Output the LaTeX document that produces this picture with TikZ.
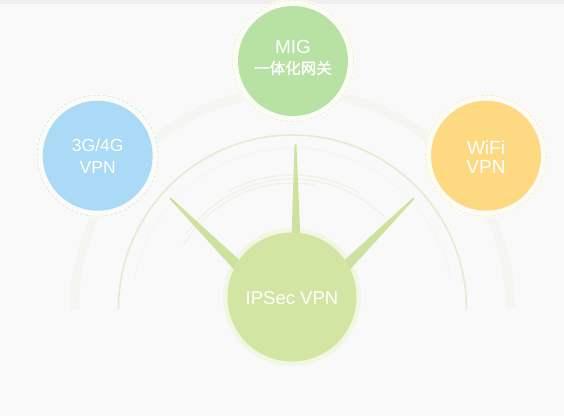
\documentclass[tikz,border=0pt]{standalone}
\usepackage{fontspec}
\setmainfont{Liberation Sans}
\newfontfamily\cjk{Noto Sans CJK SC}[FakeBold=1.2]
\usetikzlibrary{calc}
\definecolor{bgc}{HTML}{F9F9F9}
\definecolor{topc}{HTML}{EFEFEF}
\definecolor{migc}{HTML}{B8E2A4}
\definecolor{bluec}{HTML}{ABDAF6}
\definecolor{yelc}{HTML}{FDD982}
\definecolor{ipc}{HTML}{D2E5A3}
\definecolor{spikec}{HTML}{CCE29E}
\definecolor{arcc}{HTML}{E4ECD0}
\definecolor{faintc}{HTML}{EFF2E6}
\definecolor{bandc}{HTML}{F5F5F2}
\definecolor{ringc}{HTML}{FCFCF6}
\tikzset{
  disc/.style={circle, inner sep=0pt, minimum size=110pt, draw=none},
  ringdisc/.style={circle, inner sep=0pt, minimum size=124pt, fill=ringc},
  lbl/.style={text=white, align=center, inner sep=0pt},
  spikefill/.style={fill=spikec, draw=none}
}
\begin{document}
\begin{tikzpicture}[x=1pt,y=-1pt]
\fill[bgc] (0,0) rectangle (564,416);
\fill[topc] (0,0) rectangle (564,4);
\useasboundingbox (0,0) rectangle (564,416);
\coordinate (c) at (292.5,309);
% faint thick outer band
\draw[bandc, line width=9pt] ([shift={(c)}] -180:218) arc[start angle=-180, end angle=0, radius=218];
% faint inner arc near main arc
\draw[bandc, line width=1pt] ([shift={(c)}] -170:161) arc[start angle=-170, end angle=-10, radius=161];
% main arc
\draw[arcc, line width=1.6pt] ([shift={(c)}] -180:174) arc[start angle=-180, end angle=0, radius=174];
% inner faint arcs
\draw[faintc, line width=1.2pt] ([shift={(c)}] -60:134) arc[start angle=-60, end angle=-118, radius=134];
\draw[faintc, line width=1.2pt] ([shift={(c)}] -45:130) arc[start angle=-45, end angle=-145, radius=130];
\draw[faintc, line width=1.2pt] ([shift={(c)}] -80:126) arc[start angle=-80, end angle=-150, radius=126];

% satellite rings
\node[ringdisc] (migr) at (293,61) {};
\draw[migc!60!yelc!50!white, dash pattern=on 3pt off 2pt, line width=0.6pt] (migr.center) circle[radius=60.5];
\node[ringdisc] (g4r) at (97.7,155.7) {};
\draw[bluec!70!white, dash pattern=on 3pt off 2pt, line width=0.6pt] (g4r.center) circle[radius=60.5];
\node[ringdisc] (wifir) at (486,155.7) {};
\draw[yelc!60!white, dash pattern=on 3pt off 2pt, line width=0.6pt] (wifir.center) circle[radius=60.5];

% satellite discs
\node[disc, fill=migc] (mig) at (293,61) {};
\node[disc, fill=bluec] (g4) at (97.7,155.7) {};
\node[disc, fill=yelc] (wifi) at (486,155.7) {};

% ipsec ring
\node[circle, inner sep=0pt, minimum size=138pt, fill=ipc!30!white] (ipr) at (292,297) {};

% spikes
\coordinate (tl) at (170,198);
\coordinate (bl) at (248,276);
\coordinate (tr) at (414,198);
\coordinate (br) at (336,276);
\coordinate (tc) at (295.5,144);
\coordinate (bc) at (296,252);
\foreach \t/\b/\w in {tl/bl/6pt, tr/br/6pt, tc/bc/5pt}{
  \fill[spikefill] ($(\t)!0.9pt!90:(\b)$) -- ($(\b)!\w!-90:(\t)$) -- ($(\b)!\w!90:(\t)$) -- ($(\t)!0.9pt!-90:(\b)$) -- cycle;
}
% ipsec disc
\node[circle, inner sep=0pt, minimum size=129pt, fill=ipc] (ipsec) at (292,297) {};

% labels
\node[lbl, font=\fontsize{19}{21}\selectfont] at (293,47) {MIG};
\node[lbl, font=\cjk\fontsize{15.5}{18}\selectfont] at (293,68) {一体化网关};
\node[lbl, font=\fontsize{17.5}{22}\selectfont] at (g4) {3G/4G\\VPN};
\node[lbl, font=\fontsize{19}{19.5}\selectfont] at (486,157) {WiFi\\VPN};
\node[lbl, font=\fontsize{18.5}{22}\selectfont] at (292,298) {IPSec VPN};
\end{tikzpicture}
\end{document}
